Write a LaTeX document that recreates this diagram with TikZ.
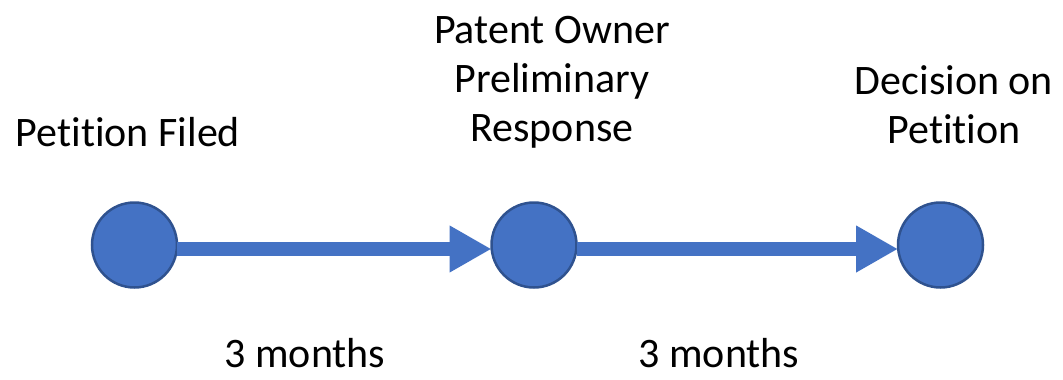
\documentclass[tikz,border=0pt]{standalone}
\usepackage{fontspec}
\setmainfont{Carlito}[Ligatures=NoCommon]
\usepackage{tikz}
\usetikzlibrary{arrows.meta}
\definecolor{stageBlue}{HTML}{4472C4}
\definecolor{stageEdge}{HTML}{2F528F}

\begin{document}
\begin{tikzpicture}[x=1pt, y=-1pt,
    stage/.style={circle, fill=stageBlue, draw=stageEdge, line width=2.5pt,
        minimum size=85pt, inner sep=0pt, outer sep=0pt},
    label/.style={font=\fontsize{42}{49}\selectfont, align=center, inner sep=0pt, anchor=base},
    span/.style={stageBlue, line width=14pt, -{Triangle[length=42pt, width=44pt]}}]
    \useasboundingbox (0,0) rectangle (1063,380);
    \node[stage] (filed) at (134.5,245) {};
    \node[stage] (response) at (534,245) {};
    \node[stage] (decision) at (940.5,245) {};
    % multi-line labels sit on their last line
    \node[label] (filedtext) at (128,146) {Petition Filed};
    \node[label] (responsetext) at (552,141) {Patent Owner\\Preliminary\\Response};
    \node[label] (decisiontext) at (954,143) {Decision on\\Petition};
    \node[label] (firstspan) at (305,367) {3 months};
    \node[label] (secondspan) at (719,367) {3 months};
    \draw[span] ([yshift=-4pt]filed.east) -- ([yshift=-4pt]response.west);
    \draw[span] ([yshift=-4pt]response.east) -- ([yshift=-4pt]decision.west);
\end{tikzpicture}
\end{document}
